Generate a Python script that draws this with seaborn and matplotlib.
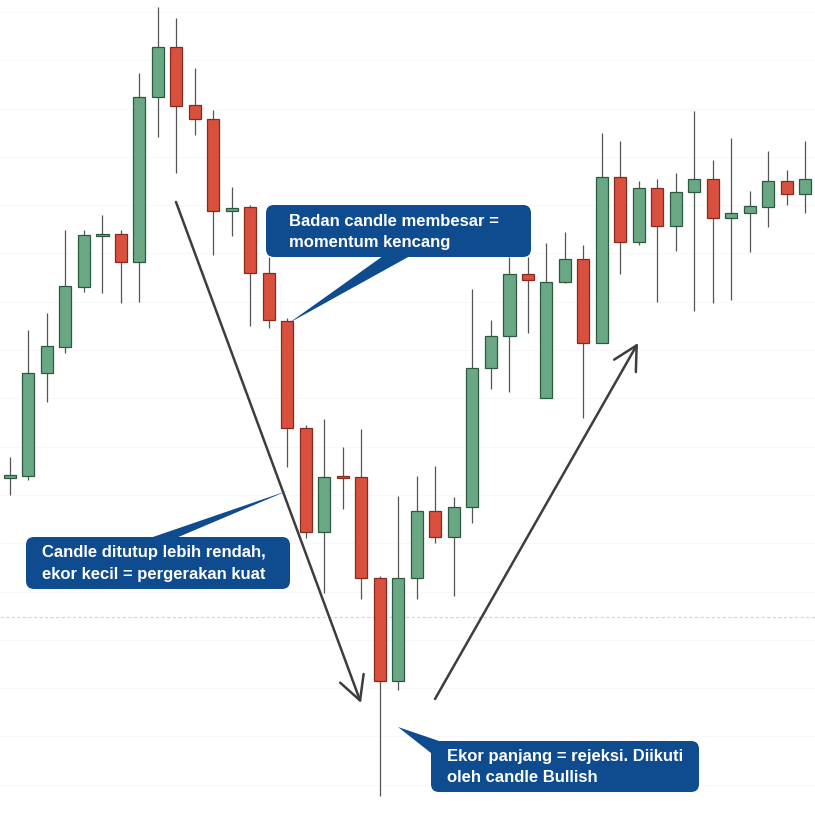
import matplotlib
matplotlib.use('Agg')
import matplotlib.pyplot as plt
import seaborn as sns
import numpy as np
import pandas as pd
from matplotlib.patches import FancyBboxPatch, Polygon

# OHLC values of the 44 candles (price units)
opens = [342, 344, 447, 473, 533, 584, 586, 558, 723, 773, 715, 701, 609, 613, 547, 499, 392, 288, 343, 343, 242, 139,
         242, 309, 283, 313, 452, 484, 546, 422, 538, 561, 477, 643, 578, 632, 594, 628, 641, 602, 607, 613, 639, 626]
highs = [363, 490, 507, 590, 590, 605, 590, 747, 813, 802, 752, 710, 633, 615, 563, 502, 395, 401, 373, 391, 244, 324,
         344, 354, 323, 531, 500, 563, 563, 577, 588, 575, 687, 679, 639, 641, 647, 709, 660, 682, 629, 669, 650, 679]
lows = [325, 340, 418, 467, 528, 527, 517, 518, 683, 647, 685, 565, 584, 494, 492, 353, 282, 227, 311, 221, 24, 130,
        221, 277, 224, 297, 431, 428, 487, 422, 537, 402, 477, 546, 575, 518, 569, 509, 517, 520, 568, 593, 615, 607]
closes = [345, 447, 474, 534, 585, 586, 558, 723, 773, 714, 701, 609, 612, 547, 500, 392, 288, 343, 342, 242, 139, 242,
          309, 283, 313, 452, 484, 546, 540, 538, 561, 477, 643, 578, 632, 594, 628, 641, 602, 607, 614, 639, 626, 641]

callout_texts = [
    ["Badan candle membesar =", "momentum kencang"],
    ["Candle ditutup lebih rendah,", "ekor kecil = pergerakan kuat"],
    ["Ekor panjang = rejeksi. Diikuti", "oleh candle Bullish"],
]

GREEN, GREEN_EDGE = '#6aa885', '#2c5a3c'
RED, RED_EDGE = '#d9503e', '#862a1e'
BLUE = '#0e4c8f'

df = pd.DataFrame({'open': opens, 'high': highs, 'low': lows, 'close': closes})
df['idx'] = np.arange(len(df))
df['up'] = df['close'] >= df['open']

sns.set_theme(style='white')
plt.rcParams['font.family'] = ['Liberation Sans', 'DejaVu Sans']

fig = plt.figure(figsize=(8.15, 8.19), dpi=100)
ax = fig.add_axes([0, 0, 1, 1])
step = 18.5
ax.set_xlim(-10 / step, 805 / step)
ax.set_ylim(1, 820)

# very faint horizontal grid
ax.set_yticks(np.arange(808, 0, -48.3))
ax.set_xticks([])
ax.grid(axis='y', color='#f8f8f8', lw=0.8)
ax.tick_params(left=False, labelleft=False)
for s in ax.spines.values():
    s.set_visible(False)
ax.axhline(820 - 617, color='#d4d4d4', lw=0.8, ls=(0, (3, 2)), zorder=1)

# wicks
ax.vlines(df['idx'], df['low'], df['high'], color='#555555', lw=0.9, zorder=2)

# bodies
w = 12 / step
for up, face, edge in [(True, GREEN, GREEN_EDGE), (False, RED, RED_EDGE)]:
    sub = df[df['up'] == up]
    bottom = sub[['open', 'close']].min(axis=1)
    height = (sub['close'] - sub['open']).abs().clip(lower=1.8)
    ax.bar(sub['idx'], height, bottom=bottom, width=w, color=face, edgecolor=edge, lw=0.9, zorder=3)

# overlay in pixel coordinates for arrows and callouts
ov = fig.add_axes([0, 0, 1, 1])
ov.set_xlim(0, 815)
ov.set_ylim(819, 0)
ov.axis('off')
ov.patch.set_alpha(0)

arrow_kw = dict(arrowstyle='->,head_length=0.85,head_width=0.45', color='#3d3d3d', lw=1.8,
                mutation_scale=20, shrinkA=0, shrinkB=0)
ov.annotate('', xy=(361, 703), xytext=(176, 202), arrowprops=arrow_kw)
ov.annotate('', xy=(638, 343), xytext=(435, 699), arrowprops=arrow_kw)

boxes = [(266, 205, 265, 52), (26, 537, 264, 52), (431, 741, 268, 51)]
pointers = [
    [(289, 323), (383, 256), (410, 256)],
    [(287, 491), (150, 538), (176, 538)],
    [(398, 727), (442, 742), (431, 753)],
]
text_pos = [(289, 221, 243), (42, 553, 574), (447, 756, 777)]

for (bx, by, bw, bh), tri, (tx, ty1, ty2), lines in zip(boxes, pointers, text_pos, callout_texts):
    ov.add_patch(Polygon(tri, closed=True, facecolor=BLUE, edgecolor='none', zorder=5))
    ov.add_patch(FancyBboxPatch((bx, by), bw, bh, boxstyle='round,pad=0,rounding_size=8',
                                facecolor=BLUE, edgecolor='none', zorder=5))
    for ty, line in zip((ty1, ty2), lines):
        ov.text(tx, ty, line, color='white', fontsize=12, fontweight='bold',
                ha='left', va='center', zorder=6)

fig.savefig('out.png', dpi=100)
